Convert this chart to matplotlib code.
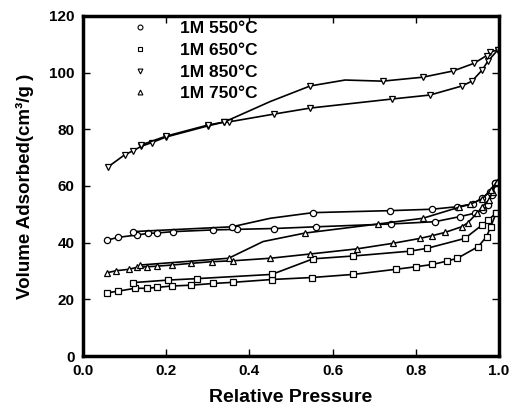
import matplotlib
matplotlib.use("Agg")
import matplotlib.pyplot as plt
from matplotlib.lines import Line2D

plt.rcParams['font.family'] = ['Liberation Sans', 'DejaVu Sans']

# 1M 550C (circles)
ads550_x = [0.058, 0.085, 0.13, 0.157, 0.177, 0.217, 0.313, 0.37, 0.46, 0.56, 0.74, 0.846,
            0.906, 0.942, 0.962, 0.974, 0.983, 0.99]
ads550_y = [40.9, 41.9, 42.7, 43.3, 43.4, 43.9, 44.5, 44.7, 45.0, 45.6, 46.6, 47.4,
            49.2, 50.4, 51.5, 53.3, 56.8, 61.0]
des550_x = [0.99, 0.978, 0.96, 0.937, 0.90, 0.839, 0.738, 0.553, 0.45, 0.358, 0.12]
des550_y = [61.0, 58.0, 55.8, 53.7, 52.7, 51.8, 51.3, 50.6, 48.6, 45.6, 43.9]
des550_marked = [0, 1, 2, 3, 4, 5, 6, 7, 9, 10]

# 1M 650C (squares)
ads650_x = [0.058, 0.085, 0.125, 0.153, 0.177, 0.213, 0.26, 0.313, 0.36, 0.454, 0.55, 0.65,
            0.752, 0.80, 0.84, 0.875, 0.90, 0.95, 0.97, 0.98, 0.993]
ads650_y = [22.3, 22.9, 23.9, 23.9, 24.2, 24.7, 25.0, 25.6, 26.0, 27.0, 27.7, 28.8,
            30.6, 31.5, 32.3, 33.5, 34.5, 38.6, 42.1, 45.6, 50.4]
des650_x = [0.993, 0.974, 0.959, 0.918, 0.827, 0.786, 0.65, 0.553, 0.454, 0.273, 0.205, 0.12]
des650_y = [50.4, 48.0, 46.2, 41.5, 38.0, 37.0, 35.3, 34.3, 28.8, 27.3, 26.8, 25.9]
des650_marked = list(range(12))

# 1M 850C (down triangles)
ads850_x = [0.06, 0.10, 0.12, 0.14, 0.165, 0.20, 0.30, 0.34, 0.35, 0.46, 0.546, 0.743,
            0.834, 0.911, 0.935, 0.96, 0.973, 0.997]
ads850_y = [66.7, 71.0, 72.4, 74.0, 75.3, 77.3, 81.2, 82.6, 82.6, 85.4, 87.5, 90.7,
            92.1, 95.3, 97.0, 101.0, 104.0, 108.0]
des850_x = [0.997, 0.978, 0.97, 0.94, 0.89, 0.817, 0.72, 0.63, 0.546, 0.45, 0.34, 0.30,
            0.20, 0.14]
des850_y = [108.0, 107.3, 106.0, 103.3, 100.6, 98.4, 97.0, 97.4, 95.3, 89.8, 82.6, 81.5,
            77.6, 74.5]
des850_marked = [0, 1, 2, 3, 4, 5, 6, 8, 10, 11, 12, 13]

# 1M 750C (up triangles)
ads750_x = [0.058, 0.08, 0.11, 0.13, 0.153, 0.177, 0.213, 0.26, 0.31, 0.36, 0.45, 0.546,
            0.658, 0.746, 0.81, 0.84, 0.87, 0.91, 0.925, 0.947, 0.96, 0.975, 0.985, 0.995]
ads750_y = [29.4, 30.1, 30.6, 31.3, 31.5, 31.7, 32.1, 32.7, 33.3, 33.6, 34.5, 36.0,
            37.8, 39.8, 41.5, 42.5, 43.6, 45.6, 47.0, 50.4, 52.7, 55.0, 58.0, 61.5]
des750_x = [0.995, 0.98, 0.96, 0.93, 0.904, 0.817, 0.71, 0.534, 0.433, 0.35, 0.137]
des750_y = [61.5, 58.5, 55.5, 53.5, 52.5, 48.6, 46.6, 43.4, 40.4, 34.5, 32.1]
des750_marked = [0, 1, 2, 3, 4, 5, 6, 7, 9, 10]

labels = ['1M 550°C', '1M 650°C', '1M 850°C', '1M 750°C']
markers = ['o', 's', 'v', '^']
msizes = [4.5, 4.5, 4.5, 4]

series = [(ads550_x, ads550_y, des550_x, des550_y, des550_marked),
          (ads650_x, ads650_y, des650_x, des650_y, des650_marked),
          (ads850_x, ads850_y, des850_x, des850_y, des850_marked),
          (ads750_x, ads750_y, des750_x, des750_y, des750_marked)]

fig = plt.figure(figsize=(5.11, 4.12), dpi=100)
ax = fig.add_axes([0.1624, 0.1359, 0.8141, 0.8253])

for (ax_, ay_, dx_, dy_, dmark), m, ms in zip(series, markers, msizes):
    ax.plot(ax_, ay_, color='black', lw=1.2, marker=m, ms=ms,
            mfc='white', mec='black', mew=0.9)
    ax.plot(dx_, dy_, color='black', lw=1.2, marker=m, ms=ms, markevery=dmark,
            mfc='white', mec='black', mew=0.9)

ax.set_xlim(0, 1.0)
ax.set_ylim(0, 120)
ax.set_xticks([0.0, 0.2, 0.4, 0.6, 0.8, 1.0])
ax.set_yticks([0, 20, 40, 60, 80, 100, 120])
ax.set_xticklabels(['0.0', '0.2', '0.4', '0.6', '0.8', '1.0'], fontweight='bold', fontsize=11)
ax.set_yticklabels(['0', '20', '40', '60', '80', '100', '120'], fontweight='bold', fontsize=11)
ax.tick_params(direction='in', length=5, width=1, top=True, right=True, pad=6)
for s in ax.spines.values():
    s.set_linewidth(2.5)

ax.set_xlabel('Relative Pressure', fontweight='bold', fontsize=14, labelpad=8)
ax.set_ylabel('Volume Adsorbed(cm³/g )', fontweight='bold', fontsize=13.5, labelpad=11)

handles = [Line2D([], [], ls='none', marker=m, ms=3.5, mfc='white', mec='black', mew=0.8)
           for m in markers]
ax.legend(handles, labels, loc='upper left', bbox_to_anchor=(0.117, 0.985), frameon=False,
          handlelength=1.0, handletextpad=1.8, labelspacing=0.38, borderpad=0, borderaxespad=0,
          prop={'weight': 'bold', 'size': 12.5})

fig.savefig('out.png', dpi=100)
